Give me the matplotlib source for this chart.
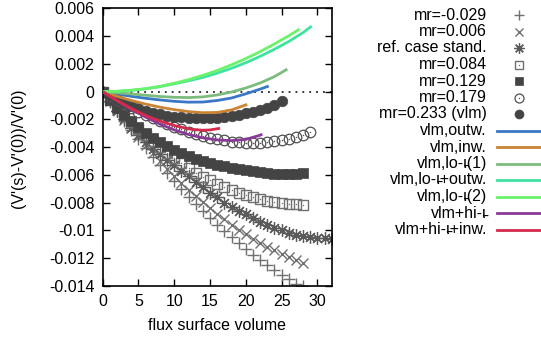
import matplotlib
matplotlib.use('Agg')
import matplotlib.pyplot as plt
from matplotlib.lines import Line2D
from matplotlib.ticker import FuncFormatter, MultipleLocator

plt.rcParams['font.family'] = ['Liberation Sans', 'DejaVu Sans']
FS = 11.5

IOTA = '\u03b9\u0335'

# ---------------- data ----------------
x_m029 = list(range(0, 29))
y_m029 = [0, -0.00072, -0.00142, -0.0021, -0.00277, -0.00343, -0.00407, -0.00469, -0.00529,
          -0.00589, -0.00646, -0.00702, -0.00756, -0.00809, -0.0086, -0.0091, -0.00958,
          -0.01004, -0.01049, -0.01092, -0.01134, -0.01174, -0.01213, -0.0125, -0.01285,
          -0.01319, -0.01351, -0.01382, -0.0140]

x_006 = list(range(0, 29))
y_006 = [0, -0.00069, -0.00136, -0.00202, -0.00265, -0.00327, -0.00387, -0.00444, -0.005,
         -0.00555, -0.00607, -0.00658, -0.00706, -0.00753, -0.00798, -0.00841, -0.00882,
         -0.00921, -0.00959, -0.00994, -0.01028, -0.0106, -0.0109, -0.01118, -0.01144,
         -0.01169, -0.01191, -0.01212, -0.01231]

x_ref = list(range(0, 33))
y_ref = [0, -0.0007, -0.0014, -0.002, -0.0026, -0.0031, -0.0036, -0.0041, -0.0045, -0.0049,
         -0.0053, -0.0057, -0.0061, -0.0065, -0.0069, -0.0073, -0.0076, -0.0080, -0.0083,
         -0.0086, -0.0088, -0.0091, -0.0094, -0.0096, -0.0098, -0.0100, -0.0102, -0.0103,
         -0.0104, -0.01047, -0.01053, -0.01057, -0.0106]

x_084 = list(range(0, 29))
y_084 = [0, -0.00058, -0.00113, -0.00167, -0.00218, -0.00267, -0.00314, -0.00359, -0.00401,
         -0.00442, -0.0048, -0.00517, -0.00551, -0.00583, -0.00613, -0.0064, -0.00666,
         -0.00689, -0.00711, -0.0073, -0.00747, -0.00762, -0.00775, -0.00785, -0.00794,
         -0.008, -0.00807, -0.00813, -0.0082]

x_129 = list(range(0, 29))
y_129 = [0, -0.0006, -0.00115, -0.00165, -0.00212, -0.00255, -0.00295, -0.00332, -0.00365,
         -0.00395, -0.00421, -0.00444, -0.00464, -0.00482, -0.00498, -0.00512, -0.00525,
         -0.00537, -0.00548, -0.00558, -0.00567, -0.00575, -0.00582, -0.00588, -0.00592,
         -0.00594, -0.00594, -0.00591, -0.00585]

x_179 = list(range(0, 30))
y_179 = [0, -0.0003, -0.0006, -0.0009, -0.00118, -0.00145, -0.0017, -0.00193, -0.00214,
         -0.00234, -0.00253, -0.00271, -0.00288, -0.00304, -0.00318, -0.00331, -0.00342,
         -0.00352, -0.0036, -0.00366, -0.00369, -0.0037, -0.00368, -0.00364, -0.00358,
         -0.0035, -0.0034, -0.00328, -0.00313, -0.00292]

x_233 = list(range(0, 26))
y_233 = [0, -0.00028, -0.00055, -0.0008, -0.00102, -0.00121, -0.00138, -0.00152, -0.00164,
         -0.00173, -0.0018, -0.00185, -0.00188, -0.0019, -0.00192, -0.00192, -0.0019,
         -0.00185, -0.00178, -0.00168, -0.00157, -0.00144, -0.0013, -0.00115, -0.00095,
         -0.0007]

x_outw = [0, 2, 4, 6, 8, 10, 12, 14, 16, 18, 20, 22, 23.2]
y_outw = [0, -0.00018, -0.00034, -0.00048, -0.0006, -0.0007, -0.00076, -0.00075, -0.00064,
          -0.00046, -0.00016, 0.00018, 0.0004]

x_inw = [0, 2, 4, 6, 8, 10, 12, 14, 16, 18, 20.2]
y_inw = [0, -0.00034, -0.00064, -0.0009, -0.00112, -0.0013, -0.00144, -0.00152, -0.0015,
         -0.00132, -0.00092]

x_lo1 = [0, 2, 4, 6, 8, 10, 12, 14, 16, 18, 20, 22, 24, 25.8]
y_lo1 = [0, -0.00008, -0.00017, -0.00026, -0.00035, -0.00041, -0.00043, -0.00038, -0.00024,
         -0.00003, 0.00026, 0.00062, 0.00108, 0.00162]

x_looutw = [0, 2, 4, 6, 8, 10, 12, 14, 16, 18, 20, 22, 24, 26, 28, 29.2]
y_looutw = [0, 0.00002, 0.00009, 0.0002, 0.00036, 0.00056, 0.00078, 0.00102, 0.00133,
            0.00168, 0.00208, 0.00254, 0.00305, 0.00361, 0.00425, 0.00472]

x_lo2 = [0, 2, 4, 6, 8, 10, 12, 14, 16, 18, 20, 22, 24, 26, 27.5]
y_lo2 = [0, 0.00002, 0.0001, 0.00021, 0.00038, 0.0006, 0.00086, 0.00117, 0.00152, 0.00193,
         0.00238, 0.00288, 0.00343, 0.00402, 0.0045]

x_hi = [0, 2, 4, 6, 8, 10, 12, 14, 16, 18, 20, 22, 22.3]
y_hi = [0, -0.00066, -0.00128, -0.00184, -0.00234, -0.00276, -0.00309, -0.00333, -0.00348,
        -0.00353, -0.00344, -0.00314, -0.00306]

x_hiinw = [0, 1, 2, 4, 6, 8, 10, 12, 13, 14, 15, 16.4]
y_hiinw = [0, -0.00033, -0.00064, -0.00122, -0.00172, -0.00212, -0.00244, -0.00268,
           -0.00275, -0.00278, -0.00276, -0.00264]

labels = ['mr=-0.029', 'mr=0.006', 'ref. case stand.', 'mr=0.084', 'mr=0.129', 'mr=0.179',
          'mr=0.233 (vlm)', 'vlm,outw.', 'vlm,inw.', f'vlm,lo-{IOTA}(1)',
          f'vlm,lo-{IOTA}+outw.', f'vlm,lo-{IOTA}(2)', f'vlm+hi-{IOTA}',
          f'vlm+hi-{IOTA}+inw.']

xticks = [0, 5, 10, 15, 20, 25, 30]

# ---------------- styles ----------------
marker_series = [
    (x_m029, y_m029, dict(marker='+', ms=8, mew=1.0, color='#707070', mfc='none'), False),
    (x_006, y_006, dict(marker='x', ms=7, mew=1.0, color='#707070', mfc='none'), False),
    (x_ref, y_ref, dict(marker=(8, 2, 0), ms=9, mew=0.9, color='#5a5a5a', mfc='none'), True),
    (x_084, y_084, dict(marker='s', ms=6.8, mew=1.0, color='#707070', mfc='none'), True),
    (x_129, y_129, dict(marker='s', ms=7.2, mew=0.5, color='#444444', mfc='#444444'), False),
    (x_179, y_179, dict(marker='o', ms=7.6, mew=0.9, color='#505050', mfc='none'), True),
    (x_233, y_233, dict(marker='o', ms=7.6, mew=0.5, color='#444444', mfc='#444444'), False),
]
line_series = [
    (x_outw, y_outw, '#3a77c4'),
    (x_inw, y_inw, '#c98436'),
    (x_lo1, y_lo1, '#7dbb7d'),
    (x_looutw, y_looutw, '#3fe3a0'),
    (x_lo2, y_lo2, '#6af26a'),
    (x_hi, y_hi, '#8a3b98'),
    (x_hiinw, y_hiinw, '#d42a4c'),
]

W, H = 541, 341
fig = plt.figure(figsize=(W / 100, H / 100), dpi=100)
L, R, T, B = 102.7, 331.7, 8.3, 286.0
ax = fig.add_axes([L / W, 1 - B / H, (R - L) / W, (B - T) / H])

ax.axhline(0, color='black', lw=1.1, linestyle=(0, (1.2, 3.3)), zorder=1)

for xs, ys, st, dot in marker_series:
    ax.plot(xs, ys, linestyle='none', zorder=2, clip_on=True, **st)
    if dot:
        ax.plot(xs, ys, linestyle='none', marker='o', ms=1.0, mew=0, color=st['color'], zorder=2)

for xs, ys, c in line_series:
    ax.plot(xs, ys, color=c, lw=2.0, zorder=3, solid_capstyle='butt')

ax.set_xlim(0, 32)
ax.set_ylim(-0.014, 0.006)
ax.set_xticks(xticks)
ax.yaxis.set_major_locator(MultipleLocator(0.002))


def yfmt(v, p):
    if abs(v) < 1e-12:
        return '0'
    return '%g' % round(v, 6)


ax.yaxis.set_major_formatter(FuncFormatter(yfmt))
ax.tick_params(direction='in', length=5, width=1, top=True, right=True, labelsize=FS, pad=6)
for s in ax.spines.values():
    s.set_linewidth(1.2)

fig.text(217 / W, 1 - 325 / H, 'flux surface volume', ha='center', va='center', fontsize=FS)
fig.text(18.3 / W, 1 - 148 / H, "(V'(s)-V'(0))/V'(0)", ha='center', va='center',
         rotation=90, fontsize=FS)

# ---------------- legend (gnuplot style, right side) ----------------
row0, dy = 15.0, 16.5
text_x, mk_x, ln_x0, ln_x1 = 487, 519, 497, 543
for i, lab in enumerate(labels):
    yy = 1 - (row0 + i * dy) / H
    fig.text(text_x / W, yy, lab, ha='right', va='center', fontsize=FS)
    if i < len(marker_series):
        st = dict(marker_series[i][2])
        st['ms'] = st['ms'] * 0.85
        fig.add_artist(Line2D([mk_x / W], [yy], linestyle='none', transform=fig.transFigure, **st))
        if marker_series[i][3]:
            fig.add_artist(Line2D([mk_x / W], [yy], linestyle='none', marker='o', ms=1.0, mew=0,
                                  color=st['color'], transform=fig.transFigure))
    else:
        c = line_series[i - len(marker_series)][2]
        fig.add_artist(Line2D([ln_x0 / W, ln_x1 / W], [yy, yy], color=c, lw=2.0,
                              transform=fig.transFigure))

fig.savefig('out.png', dpi=100)
